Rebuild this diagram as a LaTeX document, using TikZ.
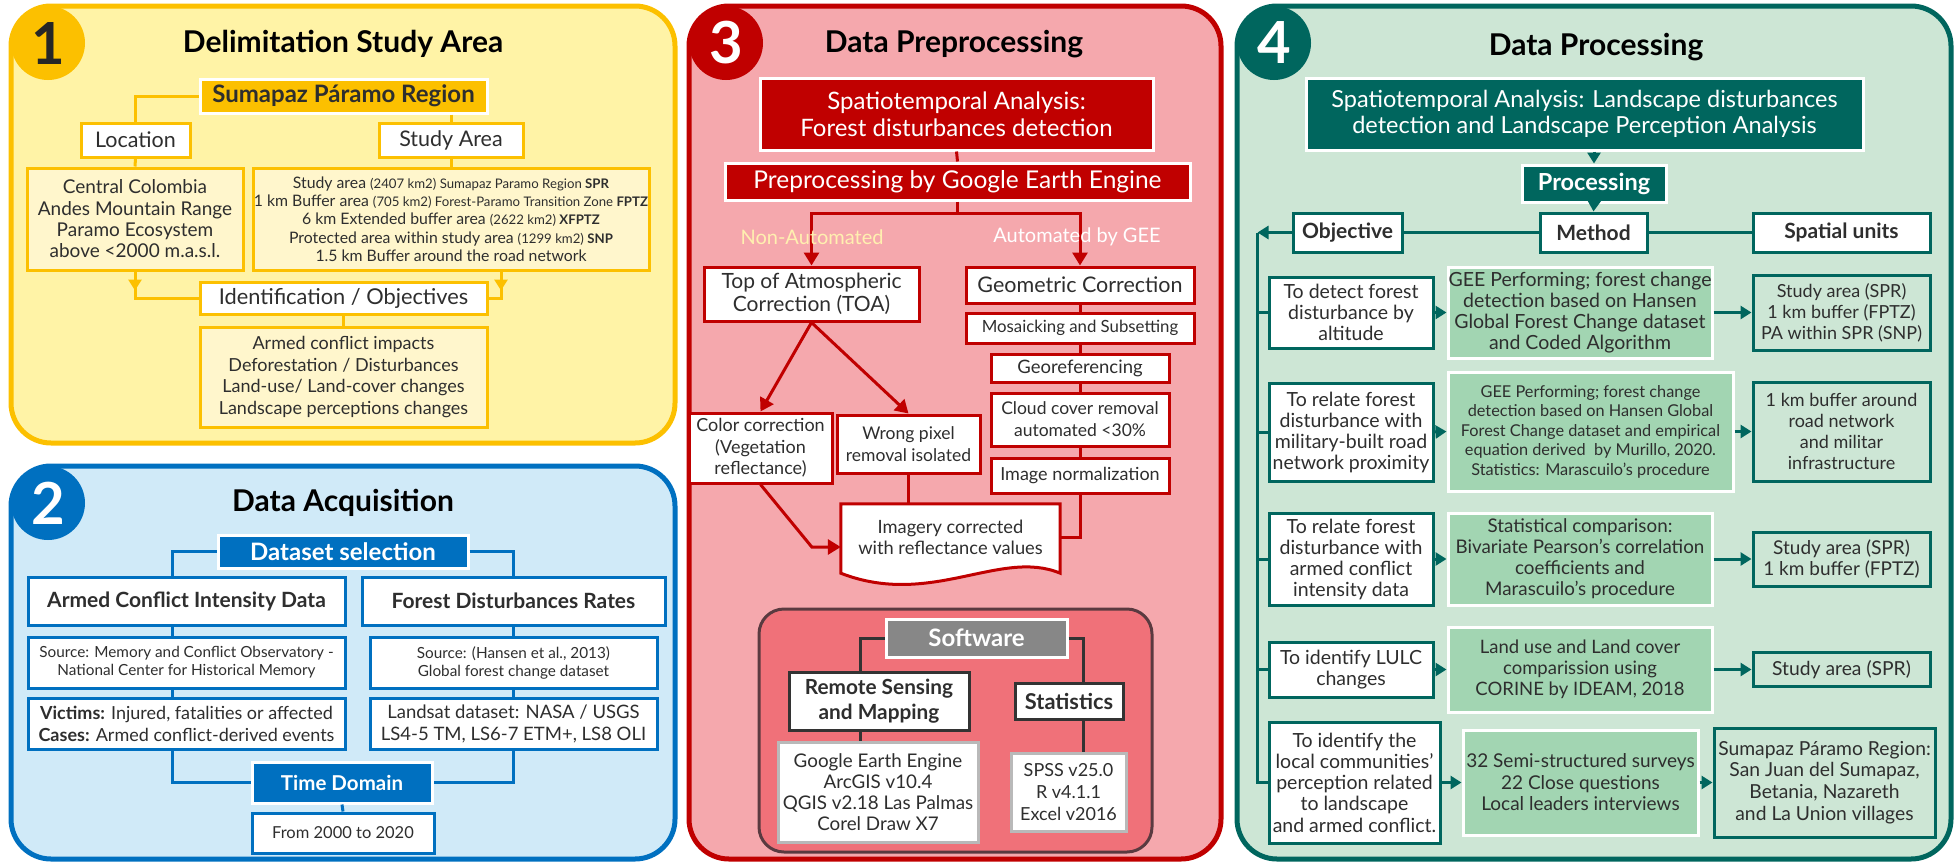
\documentclass[tikz,border=0pt]{standalone}
\usepackage{fontspec}
\setmainfont{Lato}
\usepackage{tikz}
\usetikzlibrary{arrows.meta, calc, positioning}

\definecolor{gold}{HTML}{FCC000}
\definecolor{paleyel}{HTML}{FFF3A6}
\definecolor{creamyel}{HTML}{FFF6CC}
\definecolor{acqblue}{HTML}{0070C0}
\definecolor{paleblue}{HTML}{D0EAF8}
\definecolor{prered}{HTML}{C00000}
\definecolor{palered}{HTML}{F5A8AD}
\definecolor{salmon}{HTML}{F07179}
\definecolor{softedge}{HTML}{5A3A40}
\definecolor{softgray}{HTML}{878787}
\definecolor{proteal}{HTML}{00665E}
\definecolor{palegreen}{HTML}{CDE6D5}
\definecolor{midgreen}{HTML}{A2D5B2}
\definecolor{nonauto}{HTML}{FFF0B0}
\definecolor{txt}{HTML}{2E2E2E}

\newcommand{\setfs}[2]{\fontsize{#1}{#2}\selectfont}

\begin{document}
\begin{tikzpicture}[
  x=1pt, y=-1pt,
  panel/.style={rounded corners=40pt, line width=5pt},
  badge/.style={circle, minimum size=74pt, inner sep=0pt, font=\setfs{58}{58}\bfseries},
  ttl/.style={font=\setfs{30}{32}\bfseries, text=black},
  box/.style={draw, line width=3pt, align=center, inner sep=0pt, text=txt},
  yline/.style={gold, line width=3pt},
  ytip/.style={-{Triangle[width=13pt, length=11pt]}},
  bline/.style={acqblue, line width=3pt},
  rline/.style={prered, line width=3pt},
  rarrow/.style={rline, -{Triangle[width=15pt, length=13pt]}},
  sline/.style={black!80, line width=3pt},
  tline/.style={proteal, line width=3pt},
  tarrow/.style={tline, -{Triangle[width=13pt, length=11pt]}},
]
\useasboundingbox (0,0) rectangle (1957,863);

% Panel 1: Delimitation Study Area
\draw[panel, draw=gold, fill=paleyel] (11,6) rectangle (675,443);
\node[badge, fill=gold, text=black!85] (b1) at (48,43) {1};
\node[ttl] (t1) at (343,44) {Delimitation Study Area};
\node[box, draw=white, fill=gold, minimum width=287pt, minimum height=34pt, font=\setfs{24}{26}\bfseries] (spr) at (343.5,96) {Sumapaz Páramo Region};
\node[box, draw=gold, fill=white, minimum width=109pt, minimum height=34pt, font=\setfs{21.5}{24}] (loc) at (135.5,140) {Location};
\node[box, draw=gold, fill=white, minimum width=144pt, minimum height=34pt, font=\setfs{21.5}{24}] (sa) at (451,140) {Study Area};
\node[box, draw=gold, fill=creamyel, minimum width=216pt, minimum height=102pt, font=\setfs{19}{21.3}] (loctxt) at (135,219)
  {Central Colombia\\Andes Mountain Range\\Paramo Ecosystem\\above <2000 m.a.s.l.};
\node[box, draw=gold, fill=creamyel, minimum width=396pt, minimum height=102pt, font=\setfs{15.8}{18.3}] (satxt) at (451,219)
  {Study area {\setfs{13.2}{18.3}(2407 km2) Sumapaz Paramo Region \textbf{SPR}}\\
   1 km Buffer area {\setfs{13.2}{18.3}(705 km2) Forest-Paramo Transition Zone \textbf{FPTZ}}\\
   6 km Extended buffer area {\setfs{13.2}{18.3}(2622 km2) \textbf{XFPTZ}}\\
   Protected area within study area {\setfs{13.2}{18.3}(1299 km2) \textbf{SNP}}\\
   1.5 km Buffer around the road network};
\node[box, draw=gold, fill=white, minimum width=287pt, minimum height=32pt, font=\setfs{21.8}{24}] (ident) at (343.5,298) {Identification / Objectives};
\node[box, draw=gold, fill=creamyel, minimum width=287pt, minimum height=100pt, font=\setfs{18}{21.7}] (objtxt) at (343.5,377)
  {Armed conflict impacts\\Deforestation / Disturbances\\Land-use/ Land-cover changes\\Landscape perceptions changes};

\draw[yline] (spr.west) -| (loc.north);
\draw[yline] (spr.south -| sa.north) -- (sa.north);
\draw[yline] (loc.south) -- (loctxt.north);
\draw[yline] (sa.south) -- (satxt.north);
\draw[yline] (loctxt.south) |- (ident.west);
\draw[yline, ytip] (loctxt.south) -- ++(0,19);
\draw[yline] ([xshift=50pt]satxt.south) |- (ident.east);
\draw[yline, ytip] ([xshift=50pt]satxt.south) -- ++(0,19);
\draw[yline] (ident.south) -- (objtxt.north);

% Panel 2: Data Acquisition
\draw[panel, draw=acqblue, fill=paleblue] (11,466) rectangle (675,859);
\node[badge, fill=acqblue, text=white] (b2) at (48,503) {2};
\node[ttl] (t2) at (343,503) {Data Acquisition};
\node[box, draw=white, fill=acqblue, text=white, minimum width=250pt, minimum height=33pt, font=\setfs{24}{26}\bfseries] (dsel) at (343,551.5) {Dataset selection};
\node[box, draw=acqblue, fill=white, minimum width=317pt, minimum height=48pt, font=\setfs{21}{24}\bfseries] (acid) at (186.5,601) {Armed Conflict Intensity Data};
\node[box, draw=acqblue, fill=white, minimum width=303pt, minimum height=48pt, font=\setfs{21}{24}\bfseries] (fdr) at (513.5,601) {Forest Disturbances Rates};
\node[box, draw=acqblue, fill=white, minimum width=317pt, minimum height=51pt, font=\setfs{15.3}{18}] (srcl) at (186.5,662.5)
  {Source: Memory and Conflict Observatory -\\National Center for Historical Memory};
\node[box, draw=acqblue, fill=white, minimum width=287pt, minimum height=51pt, font=\setfs{15.3}{18}] (srcr) at (513.5,662.5)
  {Source: (Hansen et al., 2013)\\Global forest change dataset};
\node[box, draw=acqblue, fill=white, minimum width=317pt, minimum height=51pt, font=\setfs{18}{22}] (victl) at (186.5,723.5)
  {\textbf{Victims:} Injured, fatalities or affected\\\textbf{Cases:} Armed conflict-derived events};
\node[box, draw=acqblue, fill=white, minimum width=287pt, minimum height=51pt, font=\setfs{18.5}{22}] (lsat) at (513.5,723.5)
  {Landsat dataset: NASA / USGS\\LS4-5 TM, LS6-7 ETM+, LS8 OLI};
\node[box, draw=white, fill=acqblue, text=white, minimum width=180pt, minimum height=41pt, font=\setfs{20.5}{22}\bfseries] (tdom) at (342,782.5) {Time Domain};
\node[box, draw=acqblue, fill=white, minimum width=182pt, minimum height=40pt, font=\setfs{16.5}{20}] (fromto) at (343,833) {From 2000 to 2020};

\draw[bline] (dsel.west) -| ([xshift=-14.5pt]acid.north);
\draw[bline] (dsel.east) -| (fdr.north);
\draw[bline] ([xshift=-14.5pt]acid.south) -- ([xshift=-14.5pt]srcl.north);
\draw[bline] ([xshift=-14.5pt]srcl.south) -- ([xshift=-14.5pt]victl.north);
\draw[bline] (fdr.south) -- (srcr.north);
\draw[bline] (srcr.south) -- (lsat.north);
\draw[bline] ([xshift=-14.5pt]victl.south) |- (tdom.west);
\draw[bline] (lsat.south) |- (tdom.east);
\draw[bline] (tdom.south) -- (fromto.north);

% Panel 3: Data Preprocessing
\draw[panel, draw=prered, fill=palered] (689,6) rectangle (1221,859);
\node[badge, fill=prered, text=white] (b3) at (726,43) {3};
\node[ttl] (t3) at (954,44) {Data Preprocessing};
\node[box, draw=white, fill=prered, text=white, minimum width=393pt, minimum height=72pt, font=\setfs{24}{27}] (st3) at (956.5,114)
  {Spatiotemporal Analysis:\\Forest disturbances detection};
\node[box, draw=white, fill=prered, text=white, minimum width=465pt, minimum height=37pt, font=\setfs{24.5}{26}] (gee) at (957.5,181.5)
  {Preprocessing by Google Earth Engine};
\node[box, draw=prered, fill=white, minimum width=215pt, minimum height=54pt, font=\setfs{21}{23}] (toa) at (811.5,294)
  {Top of Atmospheric\\Correction (TOA)};
\node[box, draw=prered, fill=white, minimum width=228pt, minimum height=36pt, font=\setfs{21.5}{23}] (geom) at (1080,285) {Geometric Correction};
\node[box, draw=prered, fill=white, minimum width=228pt, minimum height=30pt, font=\setfs{16.8}{20}] (mosaic) at (1080,328) {Mosaicking and Subsetting};
\node[box, draw=prered, fill=white, minimum width=178pt, minimum height=28pt, font=\setfs{18.5}{20}] (georef) at (1080,368) {Georeferencing};
\node[box, draw=prered, fill=white, minimum width=178pt, minimum height=53pt, font=\setfs{17.5}{22}] (cloud) at (1080,419.5)
  {Cloud cover removal\\automated <30\%};
\node[box, draw=prered, fill=white, minimum width=178pt, minimum height=35pt, font=\setfs{18}{20}] (imgnorm) at (1080,475.5) {Image normalization};
\node[box, draw=prered, fill=white, minimum width=143pt, minimum height=70pt, font=\setfs{18}{21.5}] (colorc) at (760.5,448)
  {Color correction\\(Vegetation\\reflectance)};
\node[box, draw=prered, fill=white, minimum width=143pt, minimum height=58pt, font=\setfs{17.5}{21.5}] (wrongp) at (908.5,444)
  {Wrong pixel\\removal isolated};
\node[minimum width=219pt, minimum height=66pt, inner sep=0pt] (imagery) at (950.5,537) {};
\draw[rline, fill=white] (imagery.north west) -- (imagery.north east) -- ($(imagery.south east)+(0,3)$)
  .. controls +(-60,-25) and +(90,35) .. ($(imagery.south west)+(0,3)$) -- cycle;
\node[align=center, text=txt, font=\setfs{18.3}{21}] (imgtxt) at (imagery.center) {Imagery corrected\\with reflectance values};

\draw[rline] (st3.south) -- (gee.north);
\draw[rline] (gee.south) -- ++(0,12) coordinate (gj);
\draw[rarrow] (gj) -| (toa.north);
\draw[rarrow] (gj) -| (geom.north);
\node[text=nonauto, font=\setfs{20}{22}] (na) at (812,237) {Non-Automated};
\node[text=white, font=\setfs{20}{22}] (au) at (1077,237) {Automated by GEE};
\draw[rarrow] (toa.south) -- (colorc.north);
\draw[rarrow] (toa.south) -- (wrongp.north);
\draw[rline] (geom.south) -- (mosaic.north);
\draw[rline] (mosaic.south) -- (georef.north);
\draw[rline] (georef.south) -- (cloud.north);
\draw[rline] (cloud.south) -- (imgnorm.north);
\draw[rarrow] (colorc.south) -- ($(imagery.west)+(-29,10)$) -- ($(imagery.west)+(0,10)$);
\draw[rline] (wrongp.south) -- (wrongp.south |- imagery.north);
\draw[rline] (imgnorm.south) |- (imagery.east);

% Software
\draw[rounded corners=25pt, line width=3pt, draw=softedge, fill=salmon] (759,609) rectangle (1152,852);
\node[box, draw=white, fill=softgray, text=white, minimum width=181pt, minimum height=38pt, font=\setfs{24}{26}\bfseries] (soft) at (976.5,638) {Software};
\node[box, draw=black!80, fill=white, minimum width=180pt, minimum height=58pt, font=\setfs{20.8}{25}\bfseries] (rsm) at (879,701)
  {Remote Sensing\\and Mapping};
\node[box, draw=black!80, fill=white, minimum width=108pt, minimum height=36pt, font=\setfs{21.8}{24}\bfseries] (stat) at (1069,701) {Statistics};
\node[box, draw=gray!55, fill=white, minimum width=200pt, minimum height=100pt, font=\setfs{18.8}{21}] (gelist) at (878,792)
  {Google Earth Engine\\ArcGIS v10.4\\QGIS v2.18 Las Palmas\\Corel Draw X7};
\node[box, draw=gray!55, fill=white, minimum width=115pt, minimum height=78pt, font=\setfs{18}{22}] (spss) at (1068.5,792)
  {SPSS v25.0\\R v4.1.1\\Excel v2016};
\draw[sline] (soft.west) -| ([xshift=-19pt]rsm.north);
\draw[sline] (soft.east) -| ([xshift=14pt]stat.north);
\draw[sline] ([xshift=-19pt]rsm.south) -- ([xshift=-19pt]rsm.south |- gelist.north);
\draw[sline] ([xshift=14pt]stat.south) -- ([xshift=14pt]stat.south |- spss.north);

% Panel 4: Data Processing
\draw[panel, draw=proteal, fill=palegreen] (1237,6) rectangle (1951,859);
\node[badge, fill=proteal, text=white] (b4) at (1274,43) {4};
\node[ttl] (t4) at (1596,47) {Data Processing};
\node[box, draw=white, fill=proteal, text=white, minimum width=557pt, minimum height=72pt, font=\setfs{23.5}{26}] (st4) at (1584.5,114)
  {Spatiotemporal Analysis: Landscape disturbances\\detection and Landscape Perception Analysis};
\node[box, draw=white, fill=proteal, text=white, minimum width=144pt, minimum height=37pt, font=\setfs{23.5}{25}\bfseries] (proc) at (1594,183.5) {Processing};
\node[box, draw=proteal, fill=white, minimum width=109pt, minimum height=39pt, font=\setfs{21}{23}\bfseries] (hobj) at (1347.5,232.5) {Objective};
\node[box, draw=proteal, fill=white, minimum width=107pt, minimum height=39pt, font=\setfs{21}{23}\bfseries] (hmet) at (1593.5,232.5) {Method};
\node[box, draw=proteal, fill=white, minimum width=177pt, minimum height=39pt, font=\setfs{21}{23}\bfseries] (hsp) at (1841.5,232.5) {Spatial units};

% rows: objective -> method -> spatial units
\node[box, draw=proteal, fill=white, minimum width=164pt, minimum height=71pt, font=\setfs{19.5}{21}] (obj1) at (1351,312.5)
  {To detect forest\\disturbance by\\altitude};
\node[box, draw=white, fill=midgreen, minimum width=264pt, minimum height=91pt, font=\setfs{19.5}{21}] (met1) at (1580,312.5)
  {GEE Performing; forest change\\detection based on Hansen\\Global Forest Change dataset\\and Coded Algorithm};
\node[box, draw=proteal, minimum width=177pt, minimum height=75pt, font=\setfs{18}{21}] (sp1) at (1841.5,312.5)
  {Study area (SPR)\\1 km buffer (FPTZ)\\PA within SPR (SNP)};

\node[box, draw=proteal, fill=white, minimum width=164pt, minimum height=98pt, font=\setfs{19.5}{21}] (obj2) at (1351,432)
  {To relate forest\\disturbance with\\military-built road\\network proximity};
\node[box, draw=white, fill=midgreen, minimum width=285pt, minimum height=119pt, font=\setfs{16.3}{19.5}] (met2) at (1590.5,431.5)
  {GEE Performing; forest change\\detection based on Hansen Global\\Forest Change dataset and empirical\\equation derived\ \ by Murillo, 2020.\\Statistics: Marascuilo's procedure};
\node[box, draw=proteal, minimum width=177pt, minimum height=99pt, font=\setfs{18}{21}] (sp2) at (1841.5,431.5)
  {1 km buffer around\\road network\\and militar\\infrastructure};

\node[box, draw=proteal, fill=white, minimum width=164pt, minimum height=92pt, font=\setfs{19.5}{21}] (obj3) at (1351,559)
  {To relate forest\\disturbance with\\armed conflict\\intensity data};
\node[box, draw=white, fill=midgreen, minimum width=264pt, minimum height=92pt, font=\setfs{18.8}{21}] (met3) at (1580,559)
  {Statistical comparison:\\Bivariate Pearson's correlation\\coefficients and\\Marascuilo's procedure};
\node[box, draw=proteal, minimum width=177pt, minimum height=54pt, font=\setfs{19}{21}] (sp3) at (1841.5,559)
  {Study area (SPR)\\1 km buffer (FPTZ)};

\node[box, draw=proteal, fill=white, minimum width=164pt, minimum height=55pt, font=\setfs{19.5}{21}] (obj4) at (1351,669.5)
  {To identify LULC\\changes};
\node[box, draw=white, fill=midgreen, minimum width=264pt, minimum height=85pt, font=\setfs{18.5}{21}] (met4) at (1580,669.5)
  {Land use and Land cover\\comparission using\\CORINE by IDEAM, 2018};
\node[box, draw=proteal, minimum width=177pt, minimum height=34pt, font=\setfs{19.3}{21}] (sp4) at (1841.5,669.5)
  {Study area (SPR)};

\node[box, draw=proteal, fill=white, minimum width=171pt, minimum height=121pt, font=\setfs{19.5}{21.3}] (obj5) at (1354.5,782.5)
  {To identify the\\local communities'\\perception related\\to landscape\\and armed conflict.};
\node[box, draw=white, fill=midgreen, minimum width=235pt, minimum height=105pt, font=\setfs{19}{21.5}] (met5) at (1580.5,782.5)
  {32 Semi-structured surveys\\22 Close questions\\Local leaders interviews};
\node[box, draw=proteal, minimum width=221pt, minimum height=109pt, font=\setfs{19.3}{21.7}] (sp5) at (1824.5,782.5)
  {Sumapaz Páramo Region:\\San Juan del Sumapaz,\\Betania, Nazareth\\and La Union villages};

\draw[tarrow] (st4.south -| proc.north) -- (proc.north);
\draw[tarrow] (proc.south) -- (hmet.north);
\draw[tline] (hmet.west) -- (hobj.east);
\draw[tline] (hmet.east) -- (hsp.west);
\coordinate (spine) at ([xshift=-34pt]hobj.west);
\draw[tarrow] (hobj.west) -- (spine);
\draw[tline] (spine) |- (obj5.west);
\foreach \r in {1,...,4}
  \draw[tline] (spine |- obj\r.west) -- (obj\r.west);
\foreach \r in {1,...,5} {
  \draw[tarrow] (obj\r.east) -- (met\r.west);
  \draw[tarrow] (met\r.east) -- (sp\r.west);
}
\end{tikzpicture}
\end{document}
